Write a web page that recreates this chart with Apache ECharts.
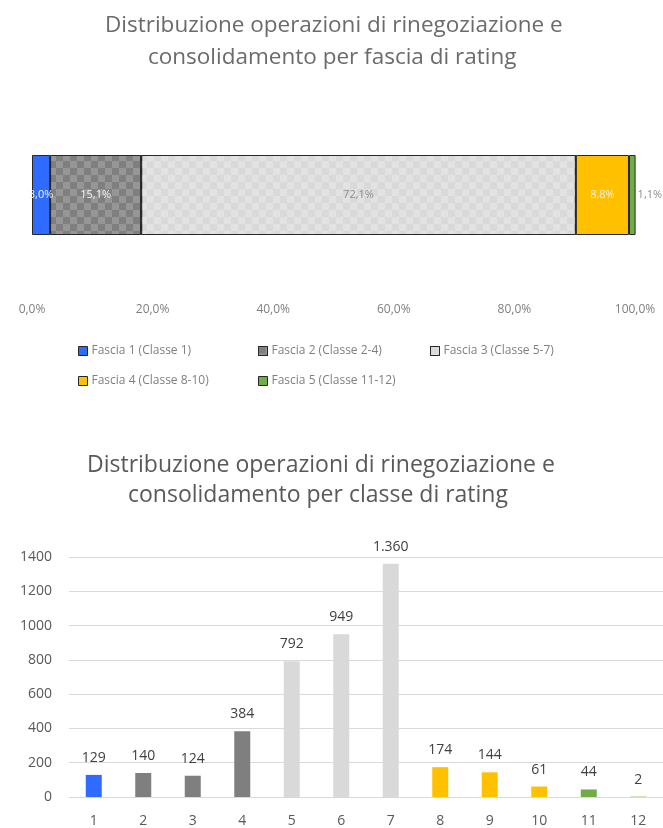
<!DOCTYPE html>
<html>
<head>
    <meta charset="utf-8">
    <title>Distribuzione operazioni per fascia e classe di rating</title>
    <script src="https://cdn.jsdelivr.net/npm/echarts@6.0.0/dist/echarts.min.js"></script>
    <style>
        html, body { margin: 0; padding: 0; background: #fff; }
    </style>
</head>
<body>
    <div id="chart" style="width: 663px; height: 828px;"></div>
    <script>
        // fasce di rating (grafico in alto, barra 100% in pila)
        var fasce = ['Fascia 1 (Classe 1)', 'Fascia 2 (Classe 2-4)', 'Fascia 3 (Classe 5-7)',
                     'Fascia 4 (Classe 8-10)', 'Fascia 5 (Classe 11-12)'];
        var fascePct = [3.0, 15.1, 72.1, 8.8, 1.1];
        var fasceColori = ['#2f6bff', '#7f7f7f', '#d9d9d9', '#ffc000', '#70ad47'];
        var pctTicks = [0, 20, 40, 60, 80, 100];

        // classi di rating (grafico in basso)
        var classi = ['1', '2', '3', '4', '5', '6', '7', '8', '9', '10', '11', '12'];
        var operazioni = [129, 140, 124, 384, 792, 949, 1360, 174, 144, 61, 44, 2];
        var classeFascia = [0, 1, 1, 1, 2, 2, 2, 3, 3, 3, 4, 4];

        var font = '"Open Sans", "Noto Sans", sans-serif';

        function pct(v) {
            return v.toFixed(1).replace('.', ',') + '%';
        }
        function migliaia(v) {
            return String(v).replace(/\B(?=(\d{3})+(?!\d))/g, '.');
        }

        var chart = echarts.init(document.querySelector('#chart'));

        var topSeries = fasce.map(function (nome, i) {
            var style = { color: fasceColori[i], borderColor: '#262626', borderWidth: 1 };
            // motivo a scacchi come nell'originale
            if (i === 1) {
                style.decal = { symbol: 'rect', symbolSize: 1, color: 'rgba(160,160,160,0.7)',
                                dashArrayX: [[7, 7], [0, 7, 7, 0]], dashArrayY: [7, 0] };
            } else if (i === 2) {
                style.decal = { symbol: 'rect', symbolSize: 1, color: 'rgba(228,228,228,0.8)',
                                dashArrayX: [[7, 7], [0, 7, 7, 0]], dashArrayY: [7, 0] };
            }
            return {
                name: nome,
                type: 'bar',
                stack: 'fasce',
                xAxisIndex: 0,
                yAxisIndex: 0,
                barWidth: 80,
                clip: false,
                data: [fascePct[i]],
                itemStyle: style,
                label: {
                    show: true,
                    position: i === 4 ? 'right' : 'inside',
                    distance: 2,
                    formatter: function (p) { return pct(p.value); },
                    color: (i === 2 || i === 4) ? '#8c8c8c' : '#f2f2f2',
                    fontFamily: font,
                    fontSize: 11
                },
                emphasis: { disabled: true }
            };
        });

        // una legenda per voce, per allinearle in colonne come in Excel
        var legendPos = [[78, 345], [258, 345], [430, 345], [78, 375], [258, 375]];
        var legends = fasce.map(function (nome, i) {
            return {
                data: [nome],
                left: legendPos[i][0],
                top: legendPos[i][1],
                padding: 0,
                itemWidth: 9,
                itemHeight: 9,
                itemGap: 4,
                icon: 'rect',
                itemStyle: { borderColor: '#262626', borderWidth: 1 },
                textStyle: { fontFamily: font, fontSize: 12, color: '#7f7f7f', padding: [0, 0, 0, -1] }
            };
        });

        function riga(testo, left, top, size, colore, alt) {
            return {
                text: testo,
                left: left,
                top: top,
                padding: 0,
                textStyle: { fontFamily: font, fontSize: size, fontWeight: 'normal', color: colore, lineHeight: alt }
            };
        }

        var option = {
            animation: false,
            title: [
                riga('Distribuzione operazioni di rinegoziazione e', 105, 10, 22.5, '#6b6b6b', 32),
                riga('consolidamento per fascia di rating', 148, 42, 22.5, '#6b6b6b', 32),
                riga('Distribuzione operazioni di rinegoziazione e', 87, 450, 23, '#595959', 30),
                riga('consolidamento per classe di rating', 128, 480, 23, '#595959', 30)
            ],
            legend: legends,
            grid: [
                { left: 32, right: 28, top: 155, height: 80 },
                { left: 69, right: 0, top: 557, bottom: 29 }
            ],
            xAxis: [
                {
                    gridIndex: 0,
                    type: 'value',
                    min: pctTicks[0],
                    max: pctTicks[pctTicks.length - 1],
                    interval: 20,
                    axisLine: { show: false },
                    axisTick: { show: false },
                    splitLine: { show: false },
                    axisLabel: {
                        margin: 69,
                        color: '#7f7f7f',
                        fontFamily: font,
                        fontSize: 12,
                        formatter: pct
                    }
                },
                {
                    gridIndex: 1,
                    type: 'category',
                    data: classi,
                    axisLine: { lineStyle: { color: '#d9d9d9', width: 1 } },
                    axisTick: { show: false },
                    axisLabel: { color: '#595959', fontFamily: font, fontSize: 14, margin: 17 }
                }
            ],
            yAxis: [
                {
                    gridIndex: 0,
                    type: 'category',
                    data: ['Totale'],
                    show: false
                },
                {
                    gridIndex: 1,
                    type: 'value',
                    min: 0,
                    max: 1400,
                    interval: 200,
                    axisLine: { show: false },
                    axisTick: { show: false },
                    splitLine: { lineStyle: { color: '#d9d9d9', width: 1 } },
                    axisLabel: {
                        color: '#595959', fontFamily: font, fontSize: 14, margin: 17,
                        formatter: function (v) { return String(v); }
                    }
                }
            ],
            series: topSeries.concat([
                {
                    name: 'Operazioni',
                    type: 'bar',
                    xAxisIndex: 1,
                    yAxisIndex: 1,
                    barWidth: 16,
                    data: operazioni.map(function (v, i) {
                        return { value: v, itemStyle: { color: fasceColori[classeFascia[i]] } };
                    }),
                    label: {
                        show: true,
                        position: 'top',
                        distance: 10,
                        color: '#404040',
                        fontFamily: font,
                        fontSize: 14,
                        formatter: function (p) { return migliaia(p.value); }
                    },
                    emphasis: { disabled: true }
                }
            ])
        };
        chart.setOption(option);
    </script>
</body>
</html>
